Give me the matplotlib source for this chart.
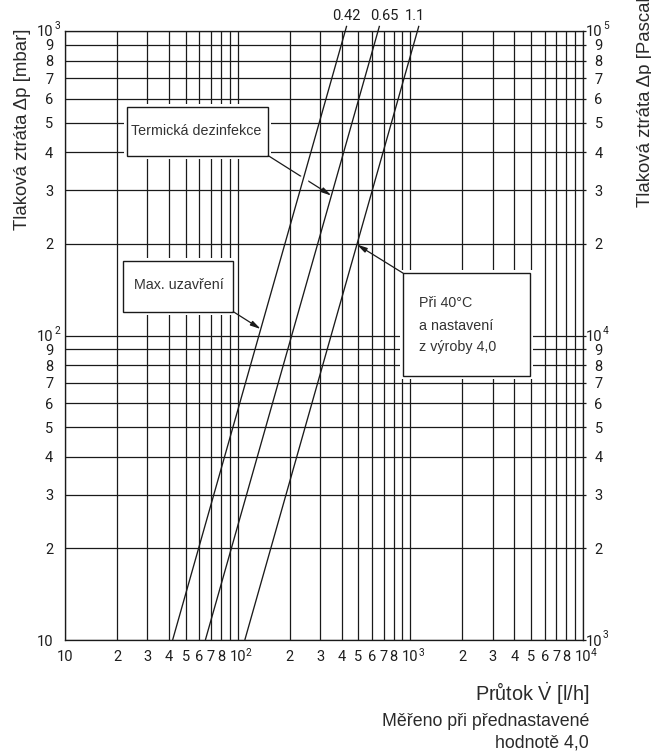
import matplotlib
matplotlib.use("Agg")
import matplotlib.pyplot as plt
from matplotlib.patches import Rectangle

# ---------------- data ----------------
kv_labels = ["0.42", "0.65", "1.1"]
dp_ends_mbar = [10, 1040]          # pressure loss at the two ends of each line
flow_042 = [42, 428]               # l/h
flow_065 = [65, 663]
flow_110 = [110, 1121]

x_major = [10, 100, 1000, 10000]
x_major_sup = ["", "2", "3", "4"]
y_major = [10, 100, 1000]
y_major_sup = ["", "2", "3"]
y2_major = [1e3, 1e4, 1e5]
y2_major_sup = ["3", "4", "5"]
minor_mult = [2, 3, 4, 5, 6, 7, 8, 9]

# annotation targets on the curves (flow l/h, dp mbar)
target_termicka = (349, 288)
target_max = (136, 105)
target_pri = (490, 199)
gap_point = (239, 324)

# ---------------- layout ----------------
W, H = 651, 753
L, R, T, B = 65, 583, 31, 640
INK = "#1a1a1a"
TXT = "#1e1e1e"
plt.rcParams["font.family"] = ["Liberation Sans", "DejaVu Sans"]
plt.rcParams["mathtext.fontset"] = "custom"
plt.rcParams["mathtext.rm"] = "Liberation Sans"
plt.rcParams["mathtext.it"] = "Liberation Sans"
TICKFONT = ["Roboto", "DejaVu Sans"]
TICKW = "normal"
TICKFS = 10.5

fig = plt.figure(figsize=(W / 100, H / 100), dpi=100)
ax = fig.add_axes([L / W, 1 - B / H, (R - L) / W, (B - T) / H])


def af(px, py):
    return ((px - L) / (R - L), (B - py) / (B - T))


ax.set_xscale("log")
ax.set_yscale("log")
ax.set_xlim(10, 1e4)
ax.set_ylim(10, 1e3)

x_minor = [m * d for d in x_major[:-1] for m in minor_mult]
x_minor_lbl = [str(m) if m < 9 else "" for d in x_major[:-1] for m in minor_mult]
y_minor = [m * d for d in y_major[:-1] for m in minor_mult]
y_minor_lbl = [str(m) for d in y_major[:-1] for m in minor_mult]

ax.set_xticks(x_major, ["10"] * len(x_major))
ax.set_xticks(x_minor, x_minor_lbl, minor=True)
ax.set_yticks(y_major, ["10"] * len(y_major))
ax.set_yticks(y_minor, y_minor_lbl, minor=True)

ax.set_axisbelow(True)
ax.grid(which="both", color=INK, lw=0.9)
ax.tick_params(axis="both", which="both", length=0, labelsize=TICKFS, colors=TXT)
ax.tick_params(axis="y", which="both", pad=8.4)
ax.tick_params(axis="x", which="both", pad=7.4)
for t in ax.get_xticklabels(which="both") + ax.get_yticklabels(which="both"):
    t.set_fontfamily(TICKFONT)
    t.set_fontweight(TICKW)
for s in ax.spines.values():
    s.set_color(INK)
    s.set_linewidth(0.95)

SUPFS = 7.3
# superscripts of the decade labels
for v, s in zip(x_major, x_major_sup):
    if s:
        ax.annotate(s, xy=(v, 0), xycoords=("data", "axes fraction"),
                    xytext=(5.8, -9.2), textcoords="offset points",
                    ha="left", va="center", fontsize=SUPFS, color=TXT,
                    family=TICKFONT, fontweight=TICKW, annotation_clip=False)
for v, s in zip(y_major, y_major_sup):
    if s:
        ax.annotate(s, xy=(0, v), xycoords=("axes fraction", "data"),
                    xytext=(-7.6, 3.4), textcoords="offset points",
                    ha="left", va="center", fontsize=SUPFS, color=TXT,
                    family=TICKFONT, fontweight=TICKW, annotation_clip=False)

# right axis in Pascal
ax2 = ax.twinx()
ax2.set_yscale("log")
ax2.set_ylim(1e3, 1e5)
y2_minor = [m * d for d in y2_major[:-1] for m in minor_mult]
y2_minor_lbl = [str(m) for d in y2_major[:-1] for m in minor_mult]
ax2.set_yticks(y2_major, ["10"] * len(y2_major))
ax2.set_yticks(y2_minor, y2_minor_lbl, minor=True)
ax2.tick_params(axis="y", which="both", direction="out", length=2, width=0.9,
                color=INK, pad=12.2, labelsize=TICKFS, colors=TXT)
for t in ax2.get_yticklabels(which="both"):
    t.set_ha("right")
    t.set_fontfamily(TICKFONT)
    t.set_fontweight(TICKW)
for s in ax2.spines.values():
    s.set_visible(False)
for v, s in zip(y2_major, y2_major_sup):
    ax2.annotate(s, xy=(1, v), xycoords=("axes fraction", "data"),
                 xytext=(14.4, 3.4), textcoords="offset points",
                 ha="left", va="center", fontsize=SUPFS, color=TXT,
                 family=TICKFONT, fontweight=TICKW, annotation_clip=False)

# kv curves
label_dx = [0, 3.6, -3.0]
for flows, lab, dx in zip([flow_042, flow_065, flow_110], kv_labels, label_dx):
    ax.plot(flows, dp_ends_mbar, color=INK, lw=0.95, clip_on=False, zorder=5,
            solid_capstyle="butt")
    ax.annotate(lab, xy=(flows[-1], dp_ends_mbar[-1]), xytext=(dx, 4.3),
                textcoords="offset points", ha="center", va="baseline",
                fontsize=TICKFS, color=TXT, family=TICKFONT, fontweight=TICKW,
                annotation_clip=False)

# label boxes (pixel rectangles of the reference)
PAD = 3


def box(x0, y0, x1, y1):
    ax0, ay0 = af(x0 - PAD, y1 + PAD)
    ax1, ay1 = af(x1 + PAD, y0 - PAD)
    ax.add_patch(Rectangle((ax0, ay0), ax1 - ax0, ay1 - ay0, transform=ax.transAxes,
                           facecolor="white", edgecolor="none", zorder=3, clip_on=False))
    bx0, by0 = af(x0, y1)
    bx1, by1 = af(x1, y0)
    ax.add_patch(Rectangle((bx0, by0), bx1 - bx0, by1 - by0, transform=ax.transAxes,
                           facecolor="white", edgecolor=INK, lw=1.0, zorder=3.5,
                           clip_on=False))


box(126.7, 107.3, 268.3, 155.7)
box(123.3, 260.7, 233.3, 311.7)
box(403.3, 273.3, 530.0, 376.0)

BOXFS = 10.3
BOXC = "#333333"
ax.text(*af(131, 131), "Termická dezinfekce", transform=ax.transAxes, ha="left",
        va="center", fontsize=BOXFS, color=BOXC, zorder=4)
ax.text(*af(134.3, 285), "Max. uzavření", transform=ax.transAxes, ha="left",
        va="center", fontsize=BOXFS, color=BOXC, zorder=4)
for line, py in zip(["Při 40°C", "a nastavení", "z výroby 4,0"], [303, 326, 347]):
    ax.text(*af(419, py), line, transform=ax.transAxes, ha="left", va="center",
            fontsize=BOXFS, color=BOXC, zorder=4)

arrow_kw = dict(arrowstyle="-|>,head_length=0.6,head_width=0.15", color=INK, lw=0.9,
                shrinkA=0, shrinkB=0)
for tgt, start in [(target_termicka, af(268.3, 155.7)),
                   (target_max, af(233.3, 311.7)),
                   (target_pri, af(403.3, 273.3))]:
    ax.annotate("", xy=tgt, xycoords="data", xytext=start, textcoords="axes fraction",
                arrowprops=arrow_kw, zorder=3.6, annotation_clip=False)
# break of the arrow where it passes the 0.42 curve
ax.plot([gap_point[0]], [gap_point[1]], marker="o", ms=7, mfc="white", mec="none",
        zorder=4.5)

# axis titles
LABC = "#2a2a2a"
fig.text(23 / W, 1 - 230 / H, "Tlaková ztráta Δp [mbar]", rotation=90, ha="center",
         va="bottom", fontsize=13.4, color=LABC)
fig.text(645 / W, 1 - 207 / H, "Tlaková ztráta Δp [Pascal]", rotation=90, ha="center",
         va="bottom", fontsize=13.4, color=LABC)
fig.text(589 / W, 1 - 693 / H, r"Průtok $\dot{\mathrm{V}}$ [l/h]", ha="right",
         va="center", fontsize=14.3, color=LABC)
fig.text(589 / W, 1 - 721.5 / H, "Měřeno při přednastavené", ha="right", va="center",
         fontsize=12.8, color=LABC)
fig.text(589 / W, 1 - 742.5 / H, "hodnotě 4,0", ha="right", va="center",
         fontsize=12.8, color=LABC)

fig.savefig("out.png", dpi=100)
